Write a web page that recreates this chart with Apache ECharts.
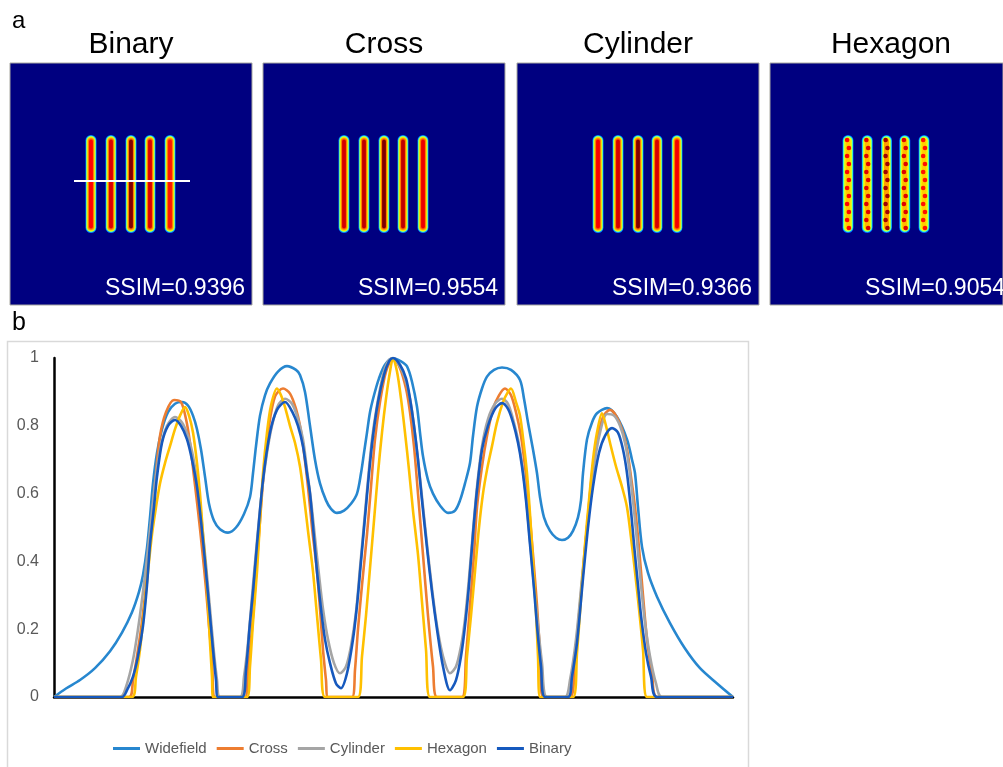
<!DOCTYPE html>
<html><head><meta charset="utf-8">
<script src="https://cdn.jsdelivr.net/npm/echarts@6/dist/echarts.min.js"></script>
<style>html,body{margin:0;padding:0;background:#fff}#c{width:1003px;height:767px}</style>
</head><body><div id="c"></div>
<script>
// ---------- panel a data ----------
const panelNames = ['Binary', 'Cross', 'Cylinder', 'Hexagon'];
const ssimValues = ['0.9396', '0.9554', '0.9366', '0.9054'];
// stripe centres / extent in image units (image is 242 units square)
const stripeCentres = [81, 101, 121, 140, 160];
const stripeExtent = [72, 170];
const stripePeaks = {
  Binary:   [0.82, 0.87, 1.00, 0.87, 0.79],
  Cross:    [0.88, 0.91, 1.00, 0.91, 0.85],
  Cylinder: [0.83, 0.88, 1.00, 0.88, 0.84],
  Hexagon:  [0.86, 0.91, 1.00, 0.91, 0.84]
};
const hexagonSpotRows = [77, 85, 93, 101, 109, 117, 125, 133, 141, 149, 157, 165];
const profileLine = [[64, 118], [180, 118]];

// ---------- panel b data: [position, normalised intensity] ----------
const seriesNames = ['Widefield', 'Cross', 'Cylinder', 'Hexagon', 'Binary'];
const widefield = [[0,0],[12,0.025],[26,0.05],[41,0.085],[56,0.135],[68,0.19],[78,0.25],[85,0.31],[89,0.36],[93,0.44],[96,0.53],[99,0.63],[103,0.72],[108,0.79],[114,0.84],[121,0.865],[128,0.87],[134,0.86],[139,0.83],[143,0.79],[147,0.73],[151,0.65],[155,0.57],[160,0.52],[166,0.495],[174,0.485],[182,0.50],[190,0.54],[196,0.59],[199,0.66],[202,0.74],[206,0.83],[211,0.89],[216,0.925],[224,0.96],[233,0.976],[242,0.965],[246,0.95],[251,0.90],[256,0.80],[261,0.70],[266,0.63],[272,0.58],[277,0.555],[283,0.543],[290,0.55],[297,0.57],[303,0.60],[307,0.66],[310,0.72],[313,0.78],[316,0.84],[320,0.89],[325,0.94],[331,0.98],[339,1.0],[347,0.99],[353,0.975],[358,0.93],[363,0.856],[366,0.78],[369,0.71],[374,0.64],[379,0.60],[386,0.565],[394,0.543],[401,0.55],[406,0.58],[411,0.63],[416,0.69],[419,0.77],[423,0.856],[428,0.91],[433,0.945],[440,0.965],[448,0.972],[457,0.965],[466,0.935],[470,0.88],[474,0.81],[479,0.73],[483,0.66],[486,0.59],[490,0.53],[496,0.49],[502,0.47],[508,0.463],[514,0.47],[519,0.49],[524,0.53],[527,0.58],[529,0.66],[533,0.76],[538,0.81],[543,0.837],[553,0.852],[563,0.826],[573,0.76],[578,0.70],[581,0.66],[584,0.56],[588,0.443],[594,0.366],[603,0.296],[616,0.218],[631,0.143],[646,0.085],[663,0.04],[679,0]];
const cross = [[0,0],[75,0],[79,0.05],[83,0.12],[87,0.20],[91,0.30],[94,0.40],[98,0.53],[102,0.66],[106,0.77],[112,0.84],[120,0.876],[127,0.87],[132,0.82],[136,0.75],[140,0.65],[144,0.55],[148,0.44],[152,0.32],[155,0.21],[158,0.11],[161,0],[191,0],[194,0.08],[198,0.20],[202,0.36],[206,0.52],[210,0.67],[215,0.80],[221,0.886],[229,0.91],[236,0.895],[242,0.85],[246,0.80],[250,0.72],[254,0.62],[258,0.50],[263,0.37],[266,0.26],[269,0.14],[272,0.05],[274,0],[298,0],[301,0.08],[304,0.20],[308,0.33],[313,0.48],[317,0.62],[321,0.76],[326,0.87],[332,0.96],[339,1.0],[346,0.97],[352,0.91],[356,0.84],[360,0.74],[364,0.60],[369,0.42],[374,0.24],[379,0.09],[383,0],[408,0],[412,0.12],[416,0.27],[420,0.42],[423,0.56],[428,0.68],[433,0.77],[439,0.85],[445,0.89],[451,0.91],[457,0.89],[462,0.84],[467,0.77],[471,0.68],[475,0.56],[479,0.42],[483,0.27],[486,0.13],[489,0],[516,0],[521,0.12],[525,0.24],[529,0.37],[533,0.50],[537,0.63],[542,0.74],[549,0.826],[556,0.847],[562,0.83],[568,0.79],[573,0.73],[577,0.65],[581,0.56],[585,0.44],[589,0.30],[593,0.17],[598,0.07],[603,0],[679,0]];
const cylinder = [[0,0],[66,0],[72,0.03],[79,0.11],[84,0.20],[89,0.31],[93,0.41],[97,0.52],[101,0.63],[106,0.73],[113,0.80],[121,0.826],[128,0.81],[134,0.77],[139,0.71],[144,0.62],[148,0.51],[152,0.39],[156,0.26],[160,0.13],[163,0.05],[166,0],[186,0],[190,0.06],[194,0.16],[199,0.33],[203,0.46],[208,0.61],[213,0.72],[218,0.80],[224,0.86],[231,0.88],[238,0.865],[244,0.82],[249,0.76],[253,0.67],[257,0.58],[261,0.47],[265,0.36],[269,0.26],[274,0.17],[280,0.10],[286,0.07],[292,0.09],[297,0.15],[302,0.25],[306,0.38],[310,0.51],[314,0.64],[318,0.76],[323,0.86],[329,0.95],[334,0.99],[339,1.0],[345,0.98],[351,0.94],[356,0.88],[360,0.80],[364,0.70],[368,0.59],[373,0.45],[378,0.32],[383,0.21],[389,0.12],[396,0.07],[402,0.09],[407,0.15],[411,0.23],[415,0.35],[419,0.49],[423,0.62],[428,0.74],[434,0.82],[441,0.865],[448,0.88],[454,0.865],[459,0.82],[464,0.76],[468,0.69],[472,0.59],[476,0.46],[480,0.33],[484,0.21],[488,0.10],[493,0],[511,0],[516,0.05],[522,0.17],[528,0.35],[534,0.53],[540,0.68],[546,0.78],[553,0.835],[560,0.83],[566,0.80],[571,0.75],[575,0.68],[579,0.58],[583,0.46],[587,0.33],[591,0.22],[596,0.12],[602,0.04],[608,0],[679,0]];
const hexagon = [[0,0],[78,0],[82,0.06],[86,0.14],[90,0.25],[94,0.37],[98,0.48],[102,0.56],[106,0.63],[111,0.69],[116,0.74],[121,0.79],[126,0.83],[131,0.855],[135,0.83],[139,0.78],[143,0.69],[146,0.60],[149,0.48],[152,0.37],[154,0.27],[156,0.16],[158,0.06],[159,0],[193,0],[196,0.09],[199,0.22],[203,0.37],[206,0.52],[209,0.66],[213,0.78],[217,0.86],[223,0.91],[227,0.89],[231,0.855],[236,0.80],[241,0.75],[246,0.68],[250,0.59],[254,0.49],[259,0.37],[263,0.24],[267,0.11],[271,0],[304,0],[308,0.12],[312,0.24],[316,0.38],[320,0.52],[324,0.66],[328,0.78],[332,0.88],[336,0.96],[339,1.0],[343,0.96],[347,0.88],[351,0.78],[355,0.67],[359,0.55],[364,0.42],[368,0.28],[372,0.14],[376,0],[409,0],[413,0.12],[417,0.24],[421,0.37],[425,0.50],[429,0.60],[433,0.67],[438,0.74],[443,0.81],[449,0.87],[454,0.90],[457,0.91],[462,0.87],[466,0.83],[470,0.74],[473,0.66],[476,0.54],[479,0.40],[482,0.25],[484,0.12],[486,0],[519,0],[523,0.13],[527,0.29],[531,0.45],[535,0.58],[539,0.70],[543,0.78],[548,0.837],[552,0.80],[556,0.75],[562,0.68],[568,0.62],[573,0.56],[577,0.47],[581,0.37],[585,0.26],[589,0.14],[593,0],[679,0]];
const binary = [[0,0],[68,0],[73,0.02],[79,0.06],[84,0.12],[89,0.21],[93,0.33],[96,0.45],[100,0.56],[103,0.65],[108,0.75],[114,0.80],[121,0.817],[127,0.80],[133,0.76],[138,0.70],[143,0.62],[147,0.52],[151,0.40],[155,0.27],[159,0.14],[162,0.05],[164,0],[188,0],[192,0.08],[196,0.22],[199,0.31],[203,0.45],[209,0.64],[216,0.78],[223,0.847],[231,0.87],[239,0.837],[244,0.80],[249,0.74],[253,0.66],[256,0.60],[260,0.47],[263,0.37],[267,0.26],[271,0.17],[276,0.10],[282,0.04],[287,0.026],[293,0.07],[299,0.17],[303,0.27],[307,0.40],[311,0.53],[315,0.66],[319,0.77],[324,0.87],[330,0.95],[335,0.99],[339,1.0],[346,0.98],[352,0.94],[356,0.88],[360,0.80],[364,0.70],[368,0.58],[373,0.44],[378,0.31],[383,0.20],[389,0.09],[396,0.02],[402,0.05],[407,0.12],[411,0.21],[415,0.33],[419,0.48],[423,0.61],[428,0.73],[434,0.80],[441,0.85],[448,0.867],[454,0.85],[459,0.81],[464,0.75],[468,0.68],[472,0.58],[476,0.45],[480,0.32],[483,0.21],[487,0.09],[491,0],[514,0],[518,0.06],[523,0.16],[529,0.35],[534,0.50],[539,0.62],[545,0.72],[551,0.77],[558,0.793],[564,0.78],[569,0.73],[573,0.66],[577,0.55],[580,0.45],[584,0.33],[587,0.24],[592,0.13],[597,0.06],[603,0],[679,0]];
const seriesData = [widefield, cross, cylinder, hexagon, binary];
const seriesColors = ['#2787CF', '#ED7D31', '#A5A5A5', '#FFC000', '#1659BE'];

// ---------- rendering ----------
const FONT = '"Liberation Sans", Arial, sans-serif';
function jet(t) {
  t = Math.max(0, Math.min(1, t));
  const c = v => Math.round(255 * Math.max(0, Math.min(1, v)));
  return 'rgb(' + c(1.5 - Math.abs(4 * t - 3)) + ',' + c(1.5 - Math.abs(4 * t - 2)) + ',' + c(1.5 - Math.abs(4 * t - 1)) + ')';
}
const imgLefts = [10, 263, 517, 770];
const IMG = 242;

const grids = [], xAxes = [], yAxes = [], series = [], graphics = [];
panelNames.forEach((name, i) => {
  grids.push({ left: imgLefts[i], top: 63, width: IMG, height: IMG, show: true,
    backgroundColor: '#000080', borderColor: '#a8a8a0', borderWidth: 1 });
  xAxes.push({ gridIndex: i, type: 'value', min: 0, max: IMG, show: false });
  yAxes.push({ gridIndex: i, type: 'value', min: 0, max: IMG, inverse: true, show: false });
  const isHex = name === 'Hexagon';
  series.push({
    type: 'custom', xAxisIndex: i, yAxisIndex: i, silent: true, clip: true,
    data: stripeCentres.map((c, k) => [c, stripePeaks[name][k]]),
    renderItem: function (params, api) {
      const top = api.coord([api.value(0), stripeExtent[0]]);
      const bot = api.coord([api.value(0), stripeExtent[1]]);
      const cx = top[0], h = bot[1] - top[1];
      const peak = api.value(1);
      const vc = 0.86 + (peak - 0.8) * 0.7;
      const layers = isHex
        ? [[11, 0, 0.22], [9.8, 0.7, 0.4], [8.6, 1.4, 0.55], [7.0, 2.4, 0.62], [5.0, 3.6, 0.66 + (peak - 0.8) * 0.3]]
        : [[11, 0, 0.24], [9.8, 0.7, 0.44], [8.6, 1.4, 0.6], [7.2, 2.2, 0.68], [5.6, 3.2, 0.77], [3.8, 4.5, vc]];
      const children = layers.map(L => ({
        type: 'rect',
        shape: { x: cx - L[0] / 2, y: top[1] + L[1], width: L[0], height: h - 2 * L[1], r: L[0] / 2 },
        style: { fill: jet(L[2]) }
      }));
      if (isHex) {
        hexagonSpotRows.forEach((row, j) => {
          const p = api.coord([api.value(0), row]);
          children.push({ type: 'circle', shape: { cx: cx + (j % 2 ? 0.9 : -0.9), cy: p[1], r: 2.3 },
            style: { fill: jet(vc - 0.03) } });
        });
      }
      return { type: 'group', children: children };
    }
  });
  graphics.push({ type: 'text', x: imgLefts[i] + IMG / 2, y: 44.6, z: 100,
    style: { text: name, font: '30px ' + FONT, fill: '#000', textAlign: 'center', textVerticalAlign: 'middle' } });
  graphics.push({ type: 'text', x: imgLefts[i] + IMG - 7, y: 289, z: 100,
    style: { text: 'SSIM=' + ssimValues[i], font: '23px ' + FONT, fill: '#fff', textAlign: 'right', textVerticalAlign: 'middle' } });
});
// profile position marker on the Binary image
series.push({ type: 'line', xAxisIndex: 0, yAxisIndex: 0, data: profileLine, symbol: 'none', silent: true,
  lineStyle: { color: '#ffffff', width: 2 }, z: 5 });

// line chart grid
grids.push({ left: 54, top: 358, width: 679, height: 339 });
xAxes.push({ gridIndex: 4, type: 'value', min: 0, max: 679,
  axisLine: { show: true, lineStyle: { color: '#000', width: 2.5 } },
  axisTick: { show: false }, axisLabel: { show: false }, splitLine: { show: false } });
yAxes.push({ gridIndex: 4, type: 'value', min: 0, max: 1, interval: 0.2,
  axisLine: { show: true, lineStyle: { color: '#000', width: 2.5 } },
  axisTick: { show: false }, splitLine: { show: false },
  axisLabel: { margin: 15, fontSize: 16, color: '#595959', fontFamily: FONT } });
seriesNames.forEach((n, k) => {
  series.push({ name: n, type: 'line', xAxisIndex: 4, yAxisIndex: 4, data: seriesData[k],
    smooth: 0.3, symbol: 'none', color: seriesColors[k],
    lineStyle: { width: 2.6, color: seriesColors[k] }, z: 3 + k });
});

graphics.push({ type: 'text', x: 12, y: 21, style: { text: 'a', font: '24px ' + FONT, fill: '#000', textVerticalAlign: 'middle' } });
graphics.push({ type: 'text', x: 12, y: 323, style: { text: 'b', font: '25px ' + FONT, fill: '#000', textVerticalAlign: 'middle' } });
graphics.push({ type: 'rect', shape: { x: 7.5, y: 341.5, width: 741, height: 440 }, z: -1,
  style: { fill: 'none', stroke: '#d9d9d9', lineWidth: 1.5 } });

const chart = echarts.init(document.getElementById('c'), null, { renderer: 'canvas' });
chart.setOption({
  animation: false,
  backgroundColor: '#fff',
  grid: grids, xAxis: xAxes, yAxis: yAxes, series: series,
  legend: { data: seriesNames, left: 113, top: 741, padding: 0, icon: 'rect', itemWidth: 27, itemHeight: 3, itemGap: 10,
    textStyle: { fontSize: 15, color: '#595959', fontFamily: FONT } },
  graphic: graphics
});
</script></body></html>
